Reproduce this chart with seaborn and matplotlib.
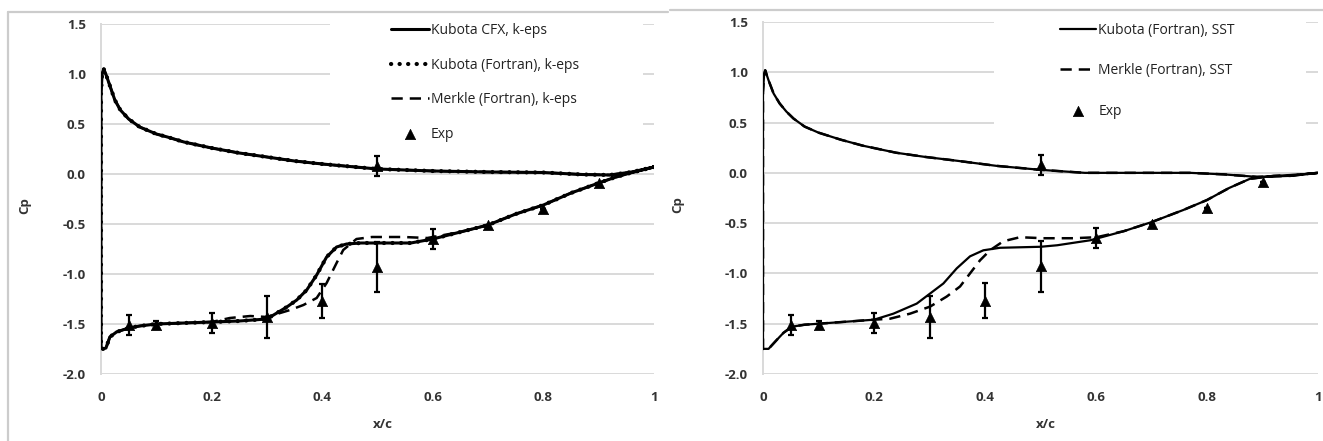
import numpy as np
import pandas as pd
import matplotlib
matplotlib.use("Agg")
import matplotlib.pyplot as plt
import seaborn as sns
from matplotlib.lines import Line2D
from matplotlib.patches import Rectangle

# ---- data ----
# k-eps, Kubota (CFX and Fortran give practically the same curve)
kub_ke_up_x = [0.0, 0.002, 0.005, 0.01, 0.015, 0.025, 0.035, 0.05, 0.07, 0.1, 0.12, 0.15,
               0.2, 0.25, 0.3, 0.35, 0.4, 0.45, 0.5, 0.6, 0.7, 0.8, 0.87, 0.92, 0.96, 1.0]
kub_ke_up_cp = [0.8, 1.0, 1.05, 0.98, 0.9, 0.74, 0.64, 0.55, 0.47, 0.4, 0.37, 0.32,
                0.26, 0.21, 0.17, 0.13, 0.1, 0.075, 0.05, 0.03, 0.02, 0.015, -0.005, -0.01, 0.02, 0.07]
kub_ke_lo_x = [0.0, 0.003, 0.009, 0.016, 0.028, 0.05, 0.07, 0.1, 0.15, 0.2, 0.25, 0.3, 0.318,
               0.336, 0.354, 0.372, 0.39, 0.408, 0.426, 0.444, 0.47, 0.5, 0.56, 0.6, 0.65,
               0.7, 0.75, 0.8, 0.85, 0.9, 0.926, 0.95, 1.0]
kub_ke_lo_cp = [-1.73, -1.75, -1.74, -1.63, -1.58, -1.54, -1.52, -1.5, -1.49, -1.48, -1.47, -1.45, -1.39,
                -1.33, -1.26, -1.16, -1.01, -0.83, -0.73, -0.7, -0.69, -0.69, -0.69, -0.65, -0.58,
                -0.51, -0.4, -0.31, -0.19, -0.09, -0.04, 0.0, 0.07]
# k-eps, Merkle (upper side same as Kubota)
mer_ke_lo_x = [0.0, 0.003, 0.009, 0.016, 0.028, 0.05, 0.07, 0.1, 0.15, 0.2, 0.233, 0.27, 0.3,
               0.342, 0.366, 0.39, 0.408, 0.426, 0.438, 0.462, 0.49, 0.547, 0.59, 0.65, 0.7,
               0.75, 0.8, 0.85, 0.9, 0.926, 0.95, 1.0]
mer_ke_lo_cp = [-1.73, -1.75, -1.74, -1.63, -1.58, -1.54, -1.52, -1.5, -1.49, -1.48, -1.44, -1.42, -1.43,
                -1.36, -1.31, -1.24, -1.09, -0.89, -0.76, -0.65, -0.63, -0.63, -0.64, -0.58, -0.51,
                -0.4, -0.31, -0.19, -0.09, -0.04, 0.0, 0.07]

# SST, Kubota
kub_sst_up_x = [0.0, 0.002, 0.004, 0.01, 0.019, 0.03, 0.042, 0.055, 0.075, 0.1, 0.14, 0.18, 0.24,
                0.29, 0.35, 0.42, 0.5, 0.58, 0.65, 0.77, 0.83, 0.89, 0.95, 1.0]
kub_sst_up_cp = [0.8, 0.98, 1.02, 0.92, 0.79, 0.69, 0.61, 0.54, 0.46, 0.4, 0.33, 0.27, 0.2,
                 0.16, 0.12, 0.07, 0.03, 0.0, 0.0, 0.0, -0.015, -0.04, -0.03, 0.0]
kub_sst_lo_x = [0.0, 0.01, 0.025, 0.037, 0.052, 0.075, 0.1, 0.15, 0.2, 0.235, 0.277, 0.301,
                0.325, 0.349, 0.373, 0.397, 0.427, 0.5, 0.53, 0.59, 0.65, 0.7, 0.757, 0.8,
                0.84, 0.877, 0.92, 0.96, 1.0]
kub_sst_lo_cp = [-1.75, -1.75, -1.66, -1.59, -1.53, -1.51, -1.5, -1.48, -1.46, -1.4, -1.3, -1.2,
                 -1.1, -0.95, -0.83, -0.77, -0.745, -0.735, -0.72, -0.67, -0.58, -0.49, -0.37, -0.27,
                 -0.15, -0.06, -0.03, -0.02, 0.0]
# SST, Merkle (upper side same as Kubota)
mer_sst_lo_x = [0.0, 0.01, 0.025, 0.037, 0.052, 0.075, 0.1, 0.15, 0.2, 0.229, 0.265, 0.301,
                0.331, 0.355, 0.373, 0.391, 0.409, 0.433, 0.463, 0.505, 0.559, 0.601, 0.65,
                0.7, 0.757, 0.8, 0.84, 0.877, 0.92, 0.96, 1.0]
mer_sst_lo_cp = [-1.75, -1.75, -1.66, -1.59, -1.53, -1.51, -1.5, -1.48, -1.46, -1.45, -1.4, -1.33,
                 -1.23, -1.13, -1.0, -0.87, -0.77, -0.68, -0.64, -0.65, -0.65, -0.64, -0.58,
                 -0.49, -0.37, -0.27, -0.15, -0.06, -0.03, -0.02, 0.0]

# experiment (same in both panels)
exp_x = [0.05, 0.1, 0.2, 0.3, 0.4, 0.5, 0.6, 0.7, 0.8, 0.9, 0.5]
exp_cp = [-1.51, -1.51, -1.49, -1.43, -1.27, -0.93, -0.65, -0.51, -0.35, -0.09, 0.08]
exp_err = [0.10, 0.04, 0.10, 0.21, 0.17, 0.25, 0.10, 0.0, 0.0, 0.0, 0.10]

x_ticks = [0, 0.2, 0.4, 0.6, 0.8, 1.0]
x_ticklabels = ["0", "0.2", "0.4", "0.6", "0.8", "1"]
y_ticks = [-2.0, -1.5, -1.0, -0.5, 0.0, 0.5, 1.0, 1.5]


def loop(up_x, up_cp, lo_x, lo_cp):
    # trailing edge -> leading edge on one side, then back on the other
    x = list(reversed(up_x)) + list(lo_x)
    cp = list(reversed(up_cp)) + list(lo_cp)
    return pd.DataFrame({"x": x, "cp": cp})


sns.set_theme(style="white")
plt.rcParams["font.family"] = ["Open Sans", "DejaVu Sans"]

W, H = 1323, 441
fig = plt.figure(figsize=(W / 100, H / 100), dpi=100)
ax1 = fig.add_axes([101 / W, 1 - 374 / H, 553 / W, 350 / H])
ax2 = fig.add_axes([763 / W, 1 - 374 / H, 555 / W, 352 / H])

GRID = "#d9d9d9"


def style_axes(ax, ylab_x):
    ax.set_xlim(0, 1)
    ax.set_ylim(-2.0, 1.5)
    ax.set_xticks(x_ticks)
    ax.set_xticklabels(x_ticklabels)
    ax.set_yticks(y_ticks)
    ax.set_yticklabels([f"{v:.1f}" for v in y_ticks])
    ax.grid(axis="y", color=GRID, lw=1.4)
    ax.grid(axis="x", visible=False)
    ax.set_axisbelow(True)
    for s in ["top", "right", "bottom"]:
        ax.spines[s].set_visible(False)
    ax.spines["left"].set_color(GRID)
    ax.spines["left"].set_linewidth(1.4)
    ax.tick_params(length=0, labelsize=9.5)
    ax.tick_params(axis="y", pad=11)
    ax.tick_params(axis="x", pad=12)
    for lab in ax.get_xticklabels() + ax.get_yticklabels():
        lab.set_fontweight("bold")
        lab.set_color("#333333")
    ax.set_xlabel("x/c", fontsize=9.5, fontweight="bold", color="#333333")
    ax.set_ylabel("Cp", fontsize=9.5, fontweight="bold", color="#333333")
    ax.xaxis.set_label_coords(0.51, -0.125)
    ax.yaxis.set_label_coords(ylab_x, 0.48)


def exp_points(ax):
    ax.errorbar(exp_x, exp_cp, yerr=exp_err, fmt="none", ecolor="black",
                elinewidth=1.6, capsize=2.5, capthick=1.6, zorder=4)
    sns.scatterplot(x=exp_x, y=exp_cp, marker="^", s=55, color="black",
                    edgecolor="black", linewidth=0.5, ax=ax, zorder=5, label="Exp")


# ---- left panel: k-eps ----
style_axes(ax1, -0.127)
ax1.add_patch(Rectangle((0.414, 0.3), 0.566, 1.35, facecolor="white",
                        edgecolor="none", zorder=1, clip_on=False))
kub_ke = loop(kub_ke_up_x, kub_ke_up_cp, kub_ke_lo_x, kub_ke_lo_cp)
mer_ke = loop(kub_ke_up_x, kub_ke_up_cp, mer_ke_lo_x, mer_ke_lo_cp)
sns.lineplot(data=kub_ke, x="x", y="cp", sort=False, estimator=None, color="black",
             lw=2.2, ax=ax1, label="Kubota CFX, k-eps", zorder=3)
sns.lineplot(data=kub_ke, x="x", y="cp", sort=False, estimator=None, color="black",
             lw=3.0, linestyle=(0, (0.05, 2.0)), dash_capstyle="round", ax=ax1,
             label="Kubota (Fortran), k-eps", zorder=3)
sns.lineplot(data=mer_ke, x="x", y="cp", sort=False, estimator=None, color="black",
             lw=1.8, linestyle=(0, (4.5, 2.8)), ax=ax1,
             label="Merkle (Fortran), k-eps", zorder=3)
exp_points(ax1)
h, l = ax1.get_legend_handles_labels()
ax1.legend(h, l, loc="upper left", bbox_to_anchor=(391 / W, 1 - 23 / H),
           bbox_transform=fig.transFigure, frameon=False, fontsize=10,
           handlelength=2.7, handletextpad=0.15, labelspacing=1.41,
           borderpad=0, borderaxespad=0, labelcolor="#222222")

# ---- right panel: SST ----
style_axes(ax2, -0.142)
ax2.add_patch(Rectangle((0.416, 0.3), 0.562, 1.35, facecolor="white",
                        edgecolor="none", zorder=1, clip_on=False))
kub_sst = loop(kub_sst_up_x, kub_sst_up_cp, kub_sst_lo_x, kub_sst_lo_cp)
mer_sst = loop(kub_sst_up_x, kub_sst_up_cp, mer_sst_lo_x, mer_sst_lo_cp)
sns.lineplot(data=kub_sst, x="x", y="cp", sort=False, estimator=None, color="black",
             lw=1.6, ax=ax2, label="Kubota (Fortran), SST", zorder=3)
sns.lineplot(data=mer_sst, x="x", y="cp", sort=False, estimator=None, color="black",
             lw=1.8, linestyle=(0, (4.5, 2.8)), ax=ax2,
             label="Merkle (Fortran), SST", zorder=3)
exp_points(ax2)
h, l = ax2.get_legend_handles_labels()
ax2.legend(h, l, loc="upper left", bbox_to_anchor=(1060 / W, 1 - 23 / H),
           bbox_transform=fig.transFigure, frameon=False, fontsize=10,
           handlelength=2.6, handletextpad=0.15, labelspacing=1.82,
           borderpad=0, borderaxespad=0, labelcolor="#222222")

# panel frames (light grey boxes around each chart)
fig.add_artist(Line2D([8 / W, 8 / W], [0, 1 - 12 / H], color="#cccccc", lw=1.6))
fig.add_artist(Line2D([8 / W, 668 / W], [1 - 12 / H, 1 - 12 / H], color="#cccccc", lw=1.6))
fig.add_artist(Line2D([670 / W, 1], [1 - 10 / H, 1 - 10 / H], color="#cccccc", lw=1.6))

fig.savefig("out.png", dpi=100, facecolor="white")
